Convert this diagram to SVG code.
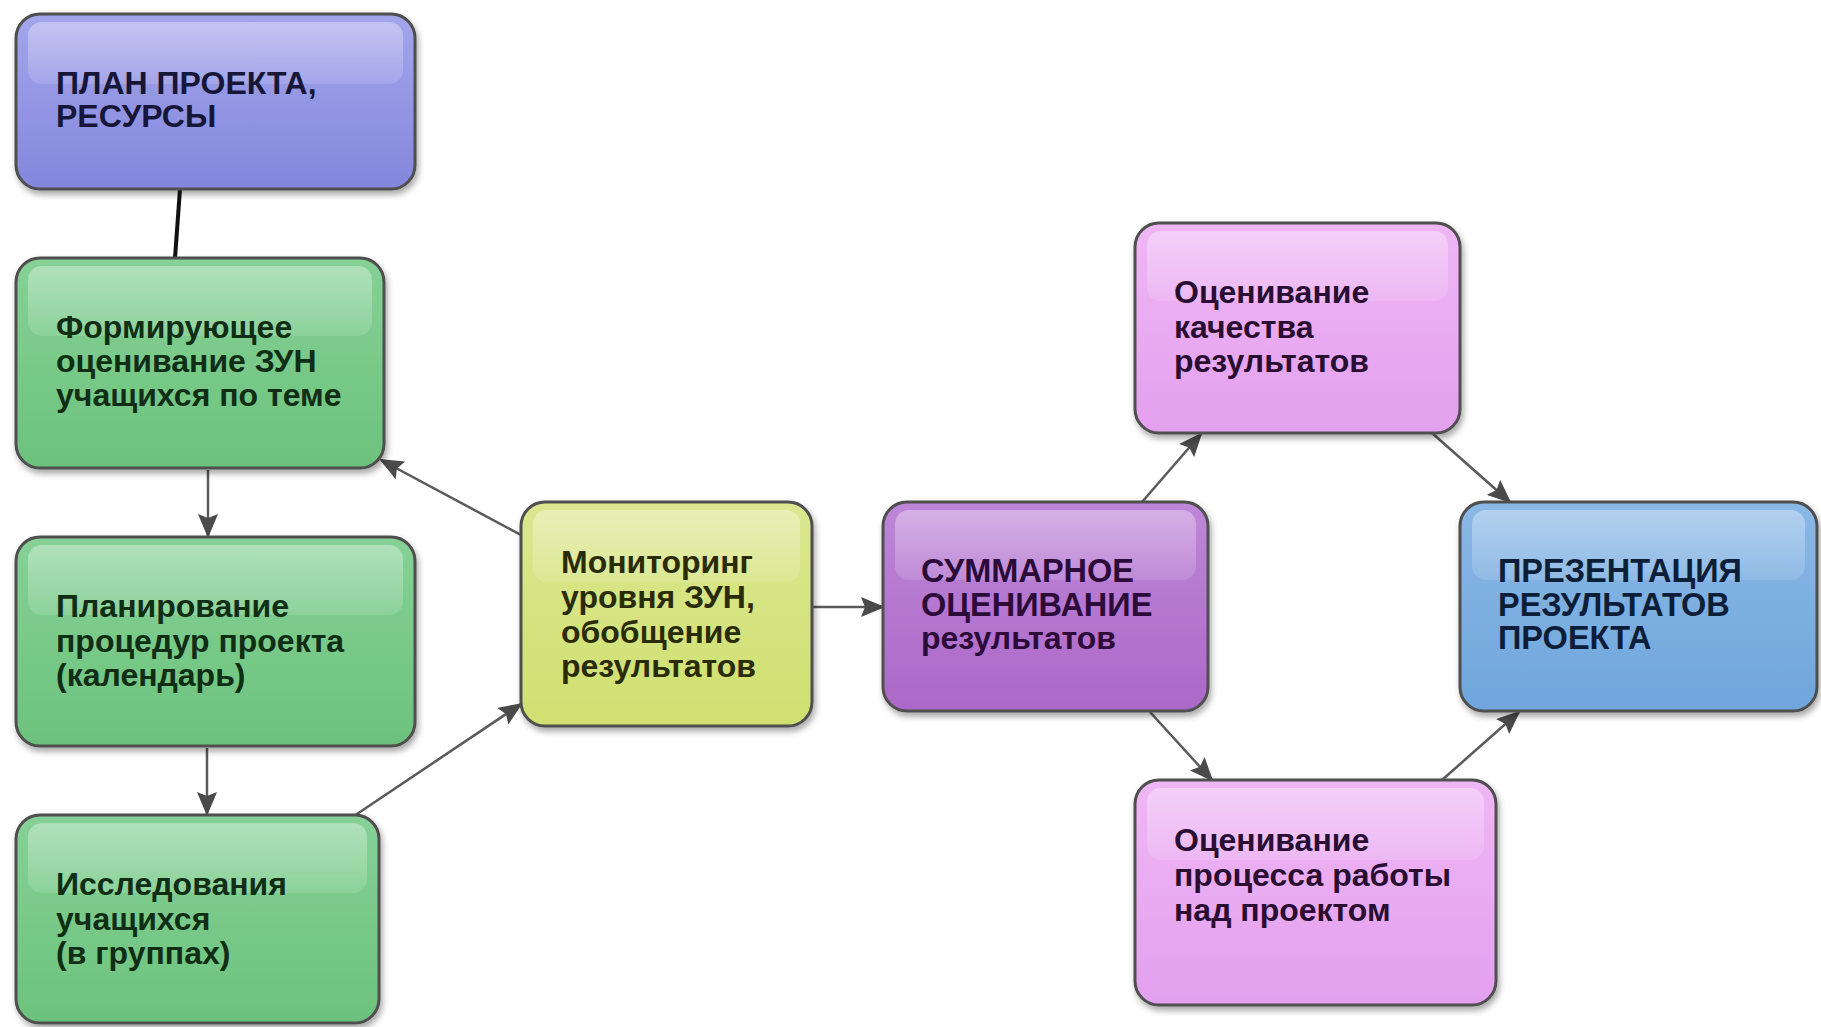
<svg xmlns="http://www.w3.org/2000/svg" width="1821" height="1027" viewBox="0 0 1821 1027">
<defs>
<style>
.box{stroke:#4f4f4f;stroke-width:3;filter:url(#sh)}
.gl{fill:url(#gloss)}
.t{font-family:"Liberation Sans",Arial,sans-serif;font-weight:bold;font-size:32px}
.tc{font-size:32.5px}
.con{stroke:#5a5a5a;stroke-width:2.5;fill:none;marker-end:url(#ah)}
</style>
<filter id="sh" x="-10%" y="-10%" width="125%" height="130%">
<feDropShadow dx="2" dy="4" stdDeviation="3" flood-color="#000" flood-opacity="0.35"/>
</filter>
<marker id="ah" markerUnits="userSpaceOnUse" markerWidth="24" markerHeight="20" refX="22" refY="10" orient="auto">
<path d="M0,0 L24,10 L0,20 L4,10 z" fill="#4a4a4a"/>
</marker>
<linearGradient id="gloss" x1="0" y1="0" x2="0" y2="1">
<stop offset="0" stop-color="#fff" stop-opacity="0.35"/>
<stop offset="1" stop-color="#fff" stop-opacity="0.12"/>
</linearGradient>
<linearGradient id="gBlueV" x1="0" y1="0" x2="0" y2="1"><stop offset="0" stop-color="#a3a6ec"/><stop offset="1" stop-color="#8486dc"/></linearGradient>
<linearGradient id="gGreen" x1="0" y1="0" x2="0" y2="1"><stop offset="0" stop-color="#86d196"/><stop offset="1" stop-color="#6cc27d"/></linearGradient>
<linearGradient id="gYellow" x1="0" y1="0" x2="0" y2="1"><stop offset="0" stop-color="#dbe790"/><stop offset="1" stop-color="#cfe070"/></linearGradient>
<linearGradient id="gPurple" x1="0" y1="0" x2="0" y2="1"><stop offset="0" stop-color="#be86d8"/><stop offset="1" stop-color="#ab68c8"/></linearGradient>
<linearGradient id="gPink" x1="0" y1="0" x2="0" y2="1"><stop offset="0" stop-color="#efb6f5"/><stop offset="1" stop-color="#e3a0ee"/></linearGradient>
<linearGradient id="gBlue" x1="0" y1="0" x2="0" y2="1"><stop offset="0" stop-color="#8ab8e6"/><stop offset="1" stop-color="#70a6dc"/></linearGradient>
</defs>
<rect width="1821" height="1027" fill="#fff"/>

<g id="connectors">
<line x1="180" y1="189" x2="175" y2="258" stroke="#111" stroke-width="4"/>
<line class="con" x1="208" y1="470" x2="208" y2="536"/>
<line class="con" x1="207" y1="748" x2="207" y2="814"/>
<line class="con" x1="354" y1="816" x2="521" y2="704"/>
<line class="con" x1="521" y1="535" x2="381" y2="460"/>
<line class="con" x1="813" y1="607" x2="883" y2="607"/>
<line class="con" x1="1142" y1="502" x2="1201" y2="434"/>
<line class="con" x1="1432" y1="433" x2="1510" y2="502"/>
<line class="con" x1="1150" y1="712" x2="1212" y2="780"/>
<line class="con" x1="1442" y1="780" x2="1519" y2="712"/>
</g>

<g id="n-plan">
<rect class="box" x="16" y="14" width="399" height="175" rx="24" fill="url(#gBlueV)"/>
<rect class="gl" x="28" y="22" width="375" height="62" rx="14"/>
<text class="t" fill="#161638" x="56" y="94">ПЛАН ПРОЕКТА,</text>
<text class="t" fill="#161638" x="56" y="127">РЕСУРСЫ</text>
</g>

<g id="n-form">
<rect class="box" x="16" y="258" width="368" height="210" rx="24" fill="url(#gGreen)"/>
<rect class="gl" x="28" y="266" width="344" height="70" rx="14"/>
<text class="t" fill="#0f2e14" x="56" y="338">Формирующее</text>
<text class="t" fill="#0f2e14" x="56" y="372">оценивание ЗУН</text>
<text class="t" fill="#0f2e14" x="56" y="406">учащихся по теме</text>
</g>

<g id="n-plan2">
<rect class="box" x="16" y="537" width="399" height="209" rx="24" fill="url(#gGreen)"/>
<rect class="gl" x="28" y="545" width="375" height="70" rx="14"/>
<text class="t" fill="#0f2e14" x="56" y="617">Планирование</text>
<text class="t" fill="#0f2e14" x="56" y="652">процедур проекта</text>
<text class="t" fill="#0f2e14" x="56" y="686">(календарь)</text>
</g>

<g id="n-issl">
<rect class="box" x="16" y="815" width="363" height="208" rx="24" fill="url(#gGreen)"/>
<rect class="gl" x="28" y="823" width="339" height="70" rx="14"/>
<text class="t" fill="#0f2e14" x="56" y="895">Исследования</text>
<text class="t" fill="#0f2e14" x="56" y="930">учащихся</text>
<text class="t" fill="#0f2e14" x="56" y="964">(в группах)</text>
</g>

<g id="n-monit">
<rect class="box" x="521" y="502" width="291" height="224" rx="24" fill="url(#gYellow)"/>
<rect class="gl" x="533" y="510" width="267" height="72" rx="14"/>
<text class="t" fill="#2a2c08" x="561" y="573">Мониторинг</text>
<text class="t" fill="#2a2c08" x="561" y="608">уровня ЗУН,</text>
<text class="t" fill="#2a2c08" x="561" y="643">обобщение</text>
<text class="t" fill="#2a2c08" x="561" y="677">результатов</text>
</g>

<g id="n-summ">
<rect class="box" x="883" y="502" width="325" height="209" rx="24" fill="url(#gPurple)"/>
<rect class="gl" x="895" y="510" width="301" height="70" rx="14"/>
<text class="t tc" fill="#2c0b3a" x="921" y="582">СУММАРНОЕ</text>
<text class="t tc" fill="#2c0b3a" x="921" y="616">ОЦЕНИВАНИЕ</text>
<text class="t" fill="#2c0b3a" x="921" y="649">результатов</text>
</g>

<g id="n-kach">
<rect class="box" x="1135" y="223" width="325" height="210" rx="24" fill="url(#gPink)"/>
<rect class="gl" x="1147" y="231" width="301" height="70" rx="14"/>
<text class="t" fill="#2a0d33" x="1174" y="303">Оценивание</text>
<text class="t" fill="#2a0d33" x="1174" y="338">качества</text>
<text class="t" fill="#2a0d33" x="1174" y="372">результатов</text>
</g>

<g id="n-proc">
<rect class="box" x="1135" y="780" width="361" height="225" rx="24" fill="url(#gPink)"/>
<rect class="gl" x="1147" y="788" width="337" height="72" rx="14"/>
<text class="t" fill="#2a0d33" x="1174" y="851">Оценивание</text>
<text class="t" fill="#2a0d33" x="1174" y="886">процесса работы</text>
<text class="t" fill="#2a0d33" x="1174" y="921">над проектом</text>
</g>

<g id="n-prez">
<rect class="box" x="1460" y="502" width="357" height="209" rx="24" fill="url(#gBlue)"/>
<rect class="gl" x="1472" y="510" width="333" height="70" rx="14"/>
<text class="t tc" fill="#0c1e38" x="1498" y="582">ПРЕЗЕНТАЦИЯ</text>
<text class="t tc" fill="#0c1e38" x="1498" y="616">РЕЗУЛЬТАТОВ</text>
<text class="t tc" fill="#0c1e38" x="1498" y="649">ПРОЕКТА</text>
</g>
</svg>
